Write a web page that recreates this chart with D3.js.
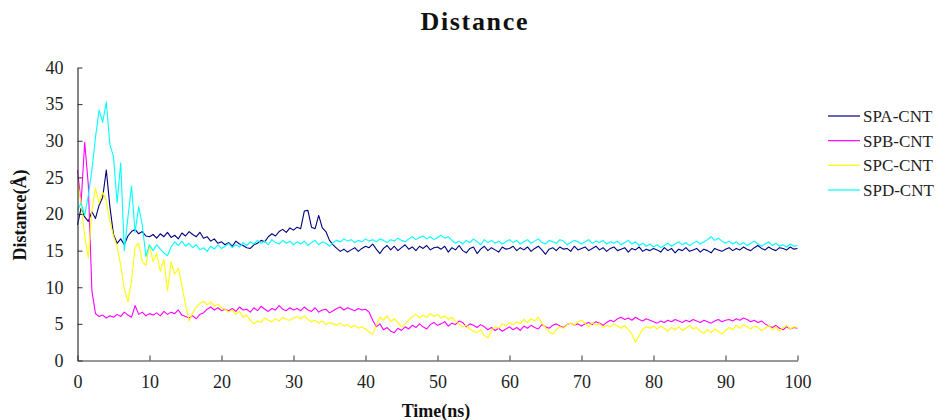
<!DOCTYPE html>
<html>
<head>
<meta charset="utf-8">
<script src="https://cdn.jsdelivr.net/npm/d3@7"></script>
<style>
  html, body { margin: 0; padding: 0; background: #fff; }
  svg { display: block; }
</style>
</head>
<body>
<svg id="chart" width="939" height="420"></svg>
<script>
// ---- data (time step 0.5 ns, 0..100 ns) ----
const seriesNames = ["SPA-CNT", "SPB-CNT", "SPC-CNT", "SPD-CNT"];
const xTicks = [0, 10, 20, 30, 40, 50, 60, 70, 80, 90, 100];
const yTicks = [0, 5, 10, 15, 20, 25, 30, 35, 40];
const timeStep = 0.5;

const spa = [
  18.5, 20.8, 19.6, 19.0, 20.3, 19.4, 21.2, 22.3, 26.0, 21.0, 17.2, 16.0, 16.6, 15.8, 17.0, 17.6, 17.9, 17.3, 17.6, 17.0, 16.9,
  17.2, 16.7, 17.3, 16.9, 17.5, 16.8, 17.1, 16.6, 17.4, 17.0, 17.6, 17.2, 16.9, 17.5, 16.7, 16.9, 16.3, 16.6, 16.0, 16.2,
  15.8, 16.1, 15.6, 16.3, 15.9, 15.7, 15.4, 15.3, 15.8, 16.0, 16.4, 16.2, 16.9, 17.3, 17.0, 17.6, 17.9, 17.5, 18.1, 17.8,
  18.2, 18.0, 20.4, 20.5, 18.2, 18.0, 19.8, 18.1, 17.6, 16.4, 15.8, 15.3, 14.9, 15.2, 14.8, 15.1, 15.4, 14.9, 15.3, 15.6,
  15.4, 15.9, 15.2, 14.6, 15.3, 15.7, 15.1, 15.6, 15.0, 15.4, 15.8, 15.2, 15.5, 15.0, 15.6, 15.3, 15.7, 15.1, 15.4, 15.5,
  15.2, 15.6, 14.8, 15.4, 15.1, 15.7, 15.0, 14.7, 15.3, 15.5, 14.6, 15.2, 15.6, 15.0, 15.4, 15.1, 14.8, 15.5, 15.2, 15.3,
  15.6, 15.0, 15.4, 15.1, 15.5, 14.9, 15.3, 15.6, 15.1, 14.5, 15.2, 15.4, 15.0, 15.5, 15.2, 15.3, 14.9, 15.6, 15.1, 15.3,
  15.5, 15.0, 15.3, 15.6, 15.1, 15.4, 14.9, 15.3, 15.5, 15.0, 15.2, 15.4, 14.8, 15.3, 15.1, 15.5, 14.9, 15.2, 15.0, 15.3,
  15.1, 14.8, 15.4, 15.0, 15.3, 14.7, 15.2, 15.0, 15.4, 14.9, 15.1, 15.3, 14.8, 15.2, 15.0, 14.7, 15.3, 15.1, 14.9, 15.2,
  15.4, 15.0, 15.3, 15.1, 15.5, 15.2, 15.0, 15.4, 15.7, 15.3, 15.1, 15.5, 15.2, 15.0, 15.4, 15.3, 15.1, 15.5, 15.2, 15.3
];

const spb = [
  26.0, 21.5, 29.8, 24.0, 9.5, 6.4, 6.0, 6.2, 5.8, 6.1, 5.9, 6.3, 6.0, 6.6, 6.2, 5.9, 7.5, 6.3, 6.6, 6.1, 6.4,
  6.2, 6.5, 6.1, 6.7, 6.3, 6.6, 6.4, 6.9, 6.2, 6.0, 5.8, 6.1, 5.7, 6.3, 6.5, 7.0, 7.3, 6.9, 7.2, 6.8,
  7.0, 6.8, 7.1, 6.7, 7.3, 6.9, 7.0, 6.6, 7.2, 6.8, 7.4, 7.0, 6.7, 7.1, 6.9, 7.5, 7.0, 6.8, 7.2, 6.9,
  7.1, 6.8, 7.3, 6.9, 6.7, 7.2, 6.6, 6.9, 7.0, 6.5, 6.8, 7.1, 7.3, 6.9, 7.2, 7.0, 6.8, 7.1, 6.9, 7.0,
  6.6, 5.5, 4.6, 5.0, 4.2, 4.5, 4.0, 3.8, 4.4, 4.1, 4.6, 4.3, 4.8, 4.5, 5.0, 4.6, 4.3, 4.9, 5.2, 4.8,
  5.0, 5.3, 4.7, 5.1, 4.9, 5.4, 5.2, 4.6, 5.0, 4.8, 4.5, 4.9, 4.6, 4.2, 4.5, 4.1, 4.4, 4.0, 4.3, 4.6,
  4.2, 4.5, 4.1, 4.7, 4.4, 4.8, 4.5, 4.3, 4.9, 4.6, 4.4, 4.8, 5.0, 4.7, 4.5, 4.9, 5.1, 4.8, 5.0, 4.7,
  5.0, 5.2, 4.9, 5.3, 5.1, 4.8, 5.2, 5.5, 5.3, 5.7, 5.9, 5.6, 5.8, 5.5, 5.9, 5.6, 5.4, 5.7, 5.5, 5.3,
  5.1, 5.4, 5.2, 5.5, 5.3, 5.6, 5.4, 5.2, 5.5, 5.3, 5.6, 5.4, 5.2, 5.5, 5.3, 5.1, 5.4, 5.6, 5.3, 5.5,
  5.6, 5.4, 5.7, 5.5, 5.8, 5.6, 5.3, 5.5, 5.2, 5.4, 5.0, 4.7, 4.5, 4.8, 4.4, 4.2, 4.6, 4.3, 4.5, 4.4
];

const spc = [
  24.5, 21.5, 17.0, 14.0, 20.5, 23.5, 21.5, 23.0, 21.8, 19.0, 17.0, 15.6, 13.0, 9.8, 8.0, 10.8, 15.5, 16.0, 13.5, 13.0, 15.8,
  13.5, 14.6, 12.2, 13.8, 9.5, 13.5, 11.8, 12.6, 10.2, 7.6, 5.4, 6.5, 7.3, 7.8, 8.1, 7.6, 8.0, 7.4, 7.7, 7.2,
  7.0, 6.6, 6.9, 6.3, 6.7, 5.9, 6.2, 5.5, 5.0, 5.4, 5.2, 5.8, 5.5, 5.3, 5.7, 5.4, 5.9, 5.6, 5.5, 5.8,
  6.0, 5.7, 6.1, 5.6, 5.3, 5.5, 5.1, 5.4, 4.9, 5.2, 5.0, 4.8, 5.1, 4.7, 4.9, 4.5, 4.8, 4.4, 4.6, 4.3,
  3.9, 3.6, 4.8, 5.9, 5.5, 6.1, 5.3, 5.7, 5.2, 4.6, 5.0, 5.5, 6.0, 6.3, 5.8, 6.2, 5.9, 6.4, 6.0, 6.3,
  5.8, 6.1, 5.6, 5.9, 5.3, 5.0, 4.6, 4.8, 4.3, 4.0, 3.8, 4.2, 3.4, 3.1, 4.1, 4.6, 4.4, 5.0, 4.7, 5.2,
  4.9, 5.3, 5.0, 5.6, 5.2, 5.7, 5.4, 5.9, 5.1, 4.5, 3.9, 3.6, 4.2, 4.6, 4.4, 4.9, 5.1, 4.8, 5.3, 5.5,
  5.1, 4.6, 5.2, 4.9, 5.0, 4.5, 4.8, 4.6, 5.0, 4.7, 4.4, 4.8, 4.2, 3.6, 2.5, 3.4, 4.3, 4.6, 4.4, 4.7,
  4.3, 4.7, 4.4, 4.0, 4.5, 4.2, 4.6, 4.1, 4.4, 4.8, 4.3, 4.5, 4.0, 3.7, 4.2, 3.8, 4.3, 4.0, 3.6, 4.1,
  4.5, 4.2, 4.8, 4.4, 4.9, 4.6, 4.3, 4.7, 4.5, 4.1, 4.4, 4.8, 4.2, 4.6, 4.0, 4.5, 4.8, 4.3, 4.6, 4.5
];

const spd = [
  20.5, 21.5, 19.8, 22.5, 26.0, 30.5, 34.2, 32.5, 35.3, 29.5, 27.8, 21.5, 27.0, 15.0, 19.5, 23.8, 17.5, 21.0, 18.5, 14.2, 15.8,
  15.0, 15.8, 15.2, 14.7, 14.3, 15.5, 16.2, 15.7, 16.3, 15.6, 16.0, 15.4, 15.8, 15.1, 15.4, 14.9, 15.6, 15.2, 15.8, 15.3,
  15.6, 16.0, 15.4, 15.8, 15.5, 16.1, 15.7, 16.2, 15.9, 16.4, 16.0, 16.3, 15.8, 16.5, 16.1, 15.9, 16.4, 16.0, 16.3, 15.8,
  16.2, 15.9, 16.3, 15.7, 16.1, 16.4, 15.8, 16.2, 16.0, 15.6, 16.1, 16.4, 16.2, 16.6, 16.3, 16.5, 16.1, 16.4, 16.2, 16.6,
  16.3, 16.5, 16.2, 16.6, 16.4, 16.1, 16.5, 16.3, 16.7, 16.4, 16.2, 16.6, 16.9, 16.5, 16.8, 17.0, 16.6, 16.9, 16.5, 16.8,
  17.1, 16.7, 16.9, 16.4, 16.0, 16.3, 15.9, 16.4, 16.1, 16.6, 16.2, 15.8, 16.5, 16.1, 16.4, 16.0, 16.3, 15.9, 16.2, 16.5,
  16.1, 16.4, 15.9, 16.2, 16.5, 16.0, 16.3, 16.6, 16.1, 15.9, 16.4, 16.2, 16.0, 16.5, 16.3, 15.8, 16.1, 16.4, 16.2, 15.9,
  16.2, 16.5, 16.0, 16.3, 16.1, 16.4, 15.9, 16.2, 16.0, 16.3, 15.8, 16.1, 16.4, 15.9, 16.2, 15.7, 16.0, 15.6, 15.9, 15.5,
  15.8, 15.4, 15.7, 16.0, 15.6, 15.9, 16.2, 15.8, 16.1, 15.7, 16.0, 16.3, 15.9, 16.2, 16.5, 16.9, 16.4, 16.7, 16.3, 16.0,
  16.3, 15.9, 16.2, 15.8, 16.1, 15.7, 16.0, 16.3, 15.9, 15.6, 15.9, 16.2, 15.7, 16.0, 15.6, 15.8, 15.5, 15.9, 15.6, 15.7
];

const seriesValues = [spa, spb, spc, spd];
const colors = ["#000080", "#ff00ff", "#ffff00", "#00ffff"];

// ---- drawing ----
const svg = d3.select("#chart");
const FONT = "'Liberation Serif', 'Times New Roman', serif";

const x = d3.scaleLinear().domain([0, 100]).range([77.5, 797.5]);
const y = d3.scaleLinear().domain([0, 40]).range([360.5, 67.5]);

// title
svg.append("text")
  .attr("x", 474).attr("y", 30)
  .attr("text-anchor", "middle")
  .attr("font-family", FONT)
  .attr("font-weight", "bold")
  .attr("font-size", 26)
  .attr("textLength", 107)
  .attr("lengthAdjust", "spacing")
  .attr("fill", "#111")
  .text("Distance");

// lines
const line = d3.line()
  .x((d, i) => x(i * timeStep))
  .y(d => y(d));

const plot = svg.append("g");
seriesValues.forEach((vals, k) => {
  plot.append("path")
    .datum(vals)
    .attr("fill", "none")
    .attr("stroke", colors[k])
    .attr("stroke-width", 1.1)
    .attr("stroke-linejoin", "round")
    .attr("d", line);
});

// axes
const xAxis = d3.axisBottom(x).tickValues(xTicks).tickFormat(d3.format("d"))
  .tickSizeInner(-5).tickSizeOuter(0).tickPadding(15);
const yAxis = d3.axisLeft(y).tickValues(yTicks).tickFormat(d3.format("d"))
  .tickSizeInner(-5).tickSizeOuter(0).tickPadding(14);

const gx = svg.append("g").attr("transform", `translate(0,${y(0)})`).call(xAxis);
const gy = svg.append("g").attr("transform", `translate(${x(0)},0)`).call(yAxis);

[gx, gy].forEach(g => {
  g.selectAll("path.domain").attr("stroke", "#333").attr("stroke-width", 1.2);
  g.selectAll(".tick line").attr("stroke", "#333");
  g.selectAll(".tick text")
    .attr("font-family", FONT)
    .attr("font-size", 18)
    .attr("fill", "#222");
});

// axis titles
svg.append("text")
  .attr("x", 436).attr("y", 417)
  .attr("text-anchor", "middle")
  .attr("font-family", FONT)
  .attr("font-weight", "bold")
  .attr("font-size", 18)
  .attr("fill", "#111")
  .text("Time(ns)");

svg.append("text")
  .attr("transform", "translate(26,215) rotate(-90)")
  .attr("text-anchor", "middle")
  .attr("font-family", FONT)
  .attr("font-weight", "bold")
  .attr("font-size", 18)
  .attr("fill", "#111")
  .text("Distance(Å)");

// legend
const legendY = d3.scalePoint().domain(seriesNames).range([116, 190]);
const legend = svg.append("g");
seriesNames.forEach((name, k) => {
  const ly = legendY(name);
  legend.append("line")
    .attr("x1", 828).attr("x2", 860)
    .attr("y1", ly).attr("y2", ly)
    .attr("stroke", colors[k])
    .attr("stroke-width", 1.2);
  legend.append("text")
    .attr("x", 863).attr("y", ly)
    .attr("dy", "0.35em")
    .attr("font-family", FONT)
    .attr("font-size", 17)
    .attr("fill", "#222")
    .text(name);
});
</script>
</body>
</html>
